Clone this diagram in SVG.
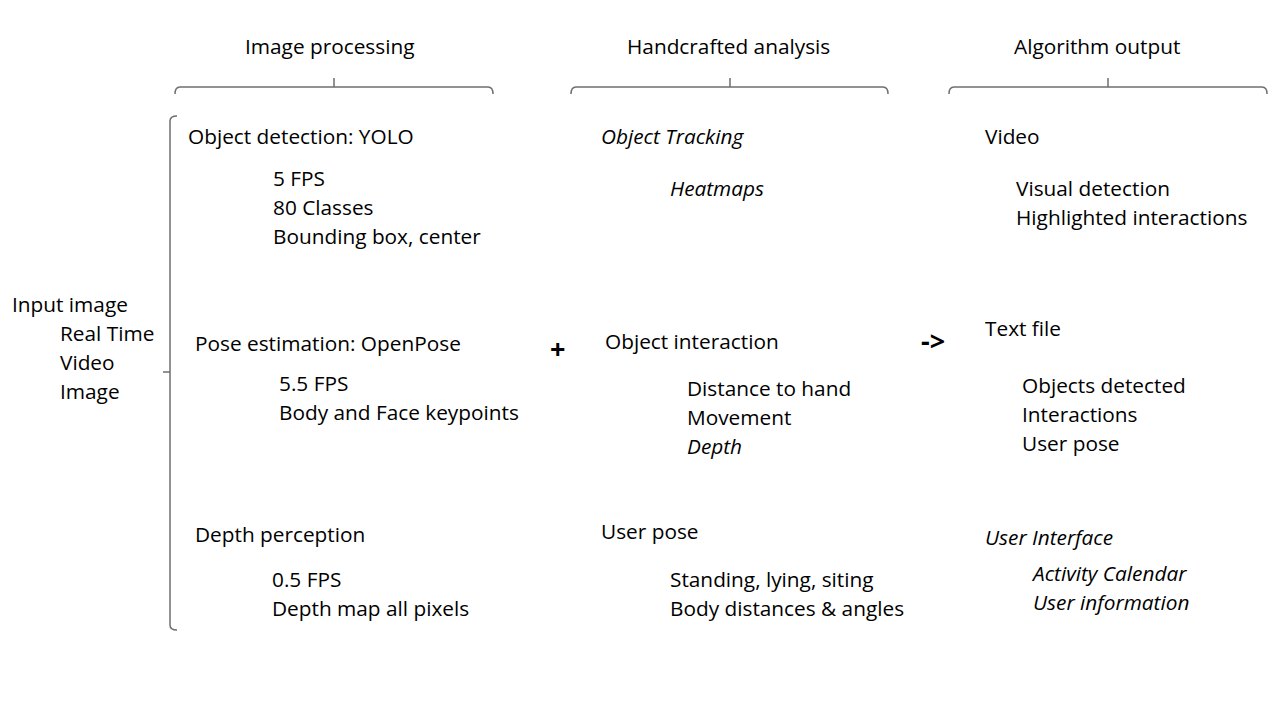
<svg xmlns="http://www.w3.org/2000/svg" width="1280" height="720" viewBox="0 0 1280 720">
<style>
text{font-family:"Open Sans","Noto Sans","DejaVu Sans",sans-serif;font-size:20.8px;fill:#000}
.i{font-style:italic}
.b{font-weight:bold;font-size:27px}
.br{fill:none;stroke:#6f6f6f;stroke-width:1.5}
</style>
<rect width="1280" height="720" fill="#fff"/>
<g id="connectors">
<path class="br" d="M175,94 Q175,87 180,87 L488,87 Q493,87 493,94 M334,87 L334,78"/>
<path class="br" d="M571,94 Q571,87 576,87 L883,87 Q888,87 888,94 M730,87 L730,78"/>
<path class="br" d="M949,94 Q949,87 954,87 L1262,87 Q1267,87 1267,94 M1108,87 L1108,78"/>
<path class="br" d="M177,116 Q170,116 170,121 L170,625 Q170,630 177,630 M170,372 L163,372"/>
</g>
<g id="headers">
<text x="245" y="54">Image processing</text>
<text x="627" y="54">Handcrafted analysis</text>
<text x="1014" y="54">Algorithm output</text>
</g>
<g id="input">
<text x="12" y="312">Input image</text>
<text x="60" y="341">Real Time</text>
<text x="60" y="370">Video</text>
<text x="60" y="399">Image</text>
</g>
<g id="object-detection">
<text x="188" y="144">Object detection: YOLO</text>
<text x="273" y="186">5 FPS</text>
<text x="273" y="215">80 Classes</text>
<text x="273" y="244">Bounding box, center</text>
</g>
<g id="pose-estimation">
<text x="195" y="351">Pose estimation: OpenPose</text>
<text x="279" y="391">5.5 FPS</text>
<text x="279" y="420">Body and Face keypoints</text>
</g>
<g id="depth-perception">
<text x="195" y="542">Depth perception</text>
<text x="272" y="587">0.5 FPS</text>
<text x="272" y="616">Depth map all pixels</text>
</g>
<g id="plus"><text class="b" x="550" y="359">+</text></g>
<g id="object-tracking">
<text class="i" x="601" y="144">Object Tracking</text>
<text class="i" x="670" y="196">Heatmaps</text>
</g>
<g id="object-interaction">
<text x="605" y="349">Object interaction</text>
<text x="687" y="396">Distance to hand</text>
<text x="687" y="425">Movement</text>
<text class="i" x="687" y="454">Depth</text>
</g>
<g id="user-pose">
<text x="601" y="539">User pose</text>
<text x="670" y="587">Standing, lying, siting</text>
<text x="670" y="616">Body distances &amp; angles</text>
</g>
<g id="arrow"><text class="b" x="921" y="351">-&gt;</text></g>
<g id="video-output">
<text x="985" y="144">Video</text>
<text x="1016" y="196">Visual detection</text>
<text x="1016" y="225">Highlighted interactions</text>
</g>
<g id="text-file">
<text x="985" y="336">Text file</text>
<text x="1022" y="393">Objects detected</text>
<text x="1022" y="422">Interactions</text>
<text x="1022" y="451">User pose</text>
</g>
<g id="user-interface">
<text class="i" x="985" y="545">User Interface</text>
<text class="i" x="1033" y="581">Activity Calendar</text>
<text class="i" x="1033" y="610">User information</text>
</g>
</svg>
